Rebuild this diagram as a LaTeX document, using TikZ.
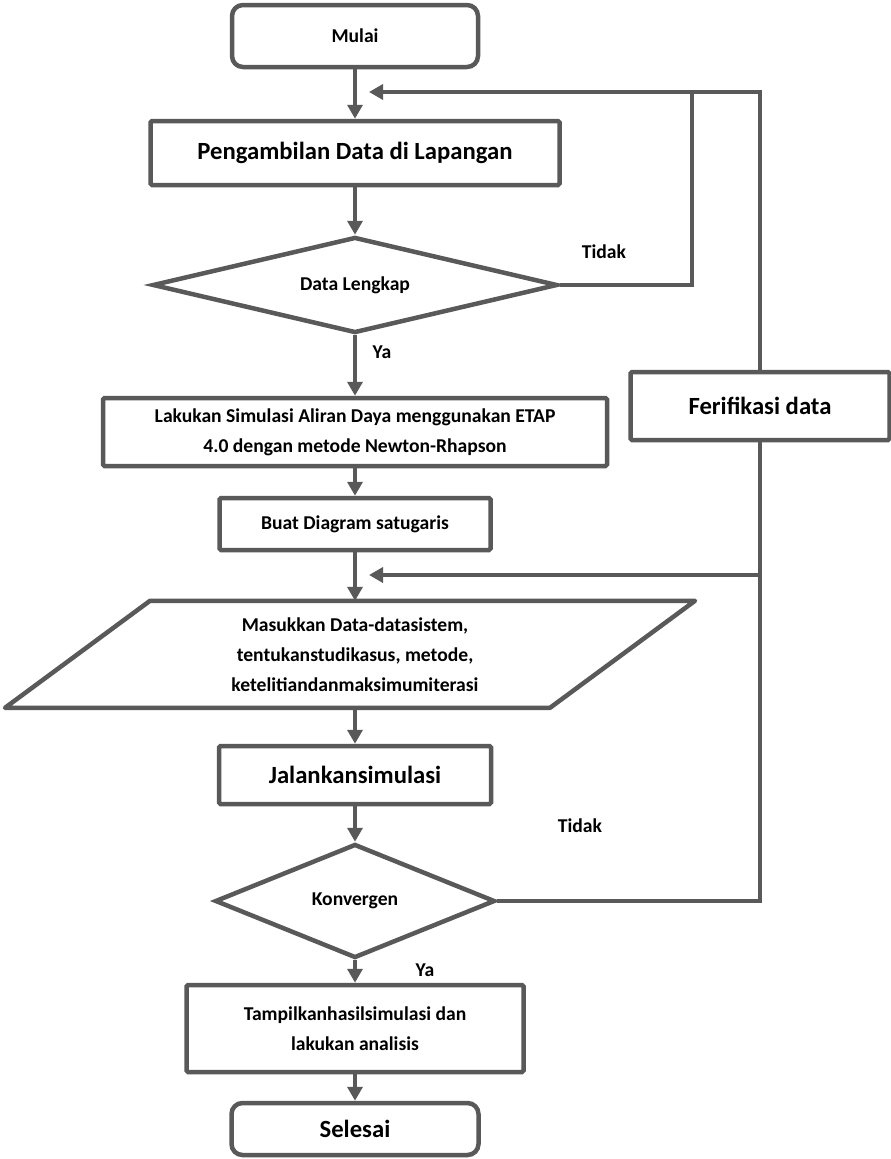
\documentclass[tikz,border=0pt]{standalone}
\usepackage{fontspec}
\setmainfont{Carlito}
\usetikzlibrary{shapes.geometric,arrows.meta}
\definecolor{linegray}{HTML}{595959}
\newcommand{\fsmall}{\fontsize{19.6}{30}\selectfont\bfseries}
\newcommand{\flarge}{\fontsize{24.7}{32}\selectfont\bfseries}
\tikzset{
  proc/.style={draw=linegray, line width=4.5pt, fill=white, rounded corners=1.5pt, inner sep=0pt, align=center},
  term/.style={proc, rounded corners=11pt},
  decision/.style={diamond, draw=linegray, line width=4.5pt, fill=white, inner sep=0pt, align=center},
  note/.style={font=\fsmall, inner sep=0pt},
  flow/.style={draw=linegray, line width=4.5pt},
  flowarrow/.style={flow, -{Triangle[length=14pt,width=15pt]}}
}

\begin{document}
\begin{tikzpicture}[x=1pt,y=-1pt]
\useasboundingbox (0,0) rectangle (891,1159);

\node [term, minimum width=246pt, minimum height=62pt, font=\fsmall] (mulai) at (355,36) {Mulai};
\node [proc, minimum width=409pt, minimum height=64pt, font=\flarge] (ambil) at (355,153) {Pengambilan Data di Lapangan};
\node [decision, aspect=4.2, minimum width=405pt, minimum height=96pt, font=\fsmall] (lengkap) at (355,285) {Data Lengkap};
\node [proc, minimum width=504pt, minimum height=68pt, font=\fsmall] (simulasi) at (355,432) {Lakukan Simulasi Aliran Daya menggunakan ETAP\\4.0 dengan metode Newton-Rhapson};
\node [proc, minimum width=259pt, minimum height=68pt, font=\flarge] (ferifikasi) at (760,406) {Ferifikasi data};
\node [proc, minimum width=271pt, minimum height=52pt, font=\fsmall] (diagram) at (355,524) {Buat Diagram satugaris};

% parallelogram for the input data
\node [minimum height=107pt, inner sep=0pt, align=center, font=\fsmall] (masukkan) at (355,654.5) {Masukkan Data-datasistem,\\tentukanstudikasus, metode,\\ketelitiandanmaksimumiterasi};
\draw [flow, line join=round] (masukkan.north) ++(-205,0) -- ++(545,0) -- ++(-145,107) -- ++(-545,0) -- cycle;

\node [proc, minimum width=272pt, minimum height=58pt, font=\flarge] (jalankan) at (355,775) {Jalankansimulasi};
\node [decision, aspect=2.46, minimum width=280pt, minimum height=114pt, font=\fsmall] (konvergen) at (355,901) {Konvergen};
\node [proc, minimum width=337pt, minimum height=87pt, font=\fsmall] (tampilkan) at (355,1028.5) {Tampilkanhasilsimulasi dan\\lakukan analisis};
\node [term, minimum width=247pt, minimum height=52pt, font=\flarge] (selesai) at (355,1129) {Selesai};

\node [note] (tidak1) at (604,252) {Tidak}; \node [note] (ya1) at (382,352) {Ya};
\node [note] (tidak2) at (580,826) {Tidak}; \node [note] (ya2) at (425,970) {Ya};

\draw [flowarrow] (mulai) -- (ambil); \draw [flowarrow] (ambil) -- (lengkap);
\draw [flowarrow] (lengkap) -- (simulasi); \draw [flowarrow] (simulasi) -- (diagram);
\draw [flowarrow] (diagram) -- (masukkan); \draw [flowarrow] (masukkan) -- (jalankan);
\draw [flowarrow] (jalankan) -- (konvergen); \draw [flowarrow] (konvergen) -- (tampilkan);
\draw [flowarrow] (tampilkan) -- (selesai);

% loops back
\coordinate (masuk1) at (369,92); \coordinate (masuk2) at (369,575); \coordinate (belok) at (692,92);
\draw [flow] (lengkap.east) -| (belok);
\draw [flowarrow] (ferifikasi.north) |- (masuk1);
\draw [flow] (konvergen.east) -| (ferifikasi.south);
\draw [flowarrow] (ferifikasi.south |- masuk2) -- (masuk2);
\end{tikzpicture}
\end{document}
